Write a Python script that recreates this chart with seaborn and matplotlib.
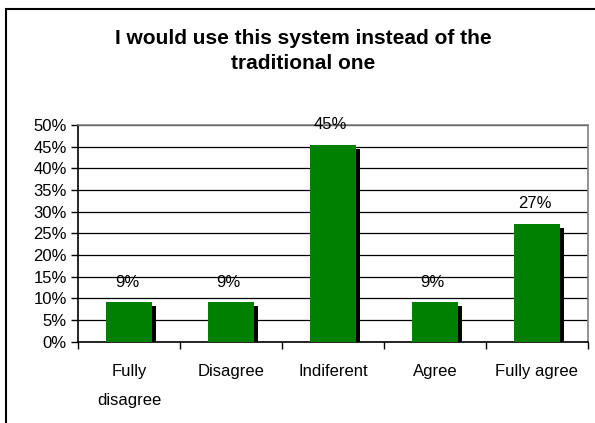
import matplotlib
matplotlib.use("Agg")
import matplotlib.pyplot as plt
import matplotlib.patheffects as pe
from matplotlib.patches import Rectangle
from matplotlib.ticker import FixedLocator, PercentFormatter
import seaborn as sns
import pandas as pd

categories = ["Fully disagree", "Disagree", "Indiferent", "Agree", "Fully agree"]
tick_labels = ["Fully\ndisagree", "Disagree", "Indiferent", "Agree", "Fully agree"]
values = [9.09, 9.09, 45.45, 9.09, 27.27]
title = "I would use this system instead of the\ntraditional one"

sns.set_theme(style="white")
plt.rcParams["font.family"] = ["Liberation Sans", "DejaVu Sans"]

df = pd.DataFrame({"cat": categories, "val": values})

fig = plt.figure(figsize=(5.95, 4.23), dpi=100)
ax = fig.add_axes([78 / 595, 1 - 341.7 / 423, (587.7 - 78) / 595, (341.7 - 125) / 423])

sns.barplot(data=df, x="cat", y="val", color="#008000", saturation=1,
            width=0.45, ax=ax, zorder=3)

for p in ax.patches:
    p.set_edgecolor("none")
    p.set_path_effects([pe.SimplePatchShadow(offset=(3, -3), shadow_rgbFace="black", alpha=1),
                        pe.Normal()])

for i, v in enumerate(values):
    ax.annotate(f"{v:.0f}%", (i - 0.02, v), xytext=(0, 9), textcoords="offset points",
                ha="center", va="bottom", fontsize=12, color="black", zorder=5)

ax.set_ylim(0, 50)
ax.set_xlim(-0.5, len(categories) - 0.5)
ax.yaxis.set_major_locator(FixedLocator([i * 5 for i in range(11)]))
ax.yaxis.set_major_formatter(PercentFormatter(decimals=0))
ax.set_xlabel("")
ax.set_ylabel("")

ax.set_xticks(range(len(categories)))
ax.set_xticklabels(tick_labels, fontsize=12, linespacing=2.2)
ax.set_xticks([i - 0.5 for i in range(len(categories) + 1)], minor=True)
ax.tick_params(axis="x", which="major", length=0, pad=16, colors="black")
ax.tick_params(axis="x", which="minor", length=5, width=1, direction="out", color="black", bottom=True)
ax.tick_params(axis="y", which="major", length=5, width=1, direction="out", pad=3,
               labelsize=12, colors="black", left=True)

ax.grid(axis="y", color="black", linewidth=0.9, zorder=0)
ax.set_axisbelow(True)
for s in ["left", "bottom"]:
    ax.spines[s].set_color("black")
    ax.spines[s].set_linewidth(1.2)
for s in ["top", "right"]:
    ax.spines[s].set_color("#808080")
    ax.spines[s].set_linewidth(1.2)

fig.text(303 / 595, 1 - 51 / 423, title, ha="center", va="center", fontsize=15,
         fontweight="bold", linespacing=1.45, color="black")

fig.patches.append(Rectangle((6 / 595, -0.05), 1.2, 1 - 9 / 423 + 0.05, transform=fig.transFigure,
                             fill=False, edgecolor="black", linewidth=1.5))

fig.savefig("out.png", dpi=100)
